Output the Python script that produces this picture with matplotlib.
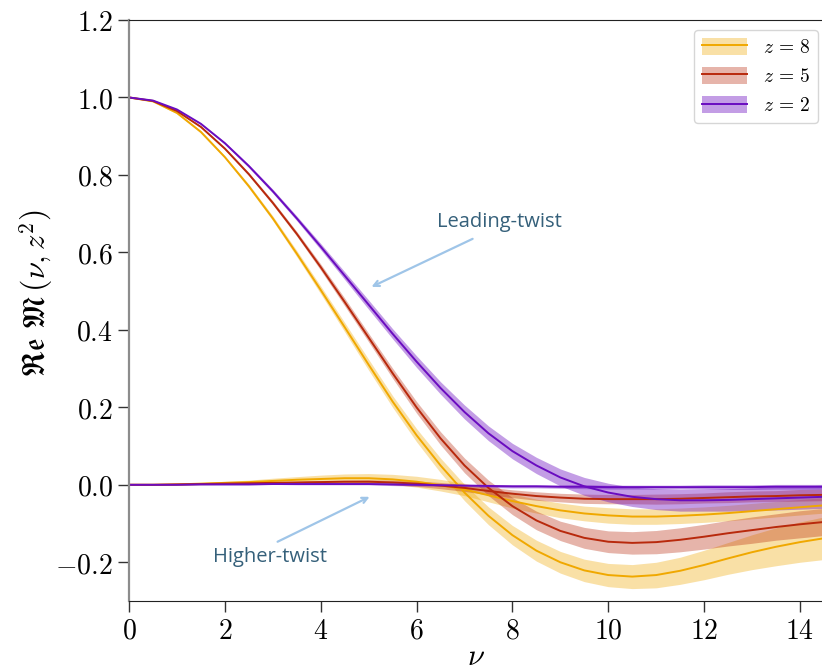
import numpy as np
import matplotlib
matplotlib.use("Agg")
import matplotlib.pyplot as plt
from matplotlib.patches import Patch
from matplotlib.lines import Line2D
from matplotlib.ticker import FuncFormatter

plt.rcParams["mathtext.fontset"] = "cm"

# Ioffe time grid
nu = np.arange(0, 15.0, 0.5)

# leading-twist pieces (central values)
lt_z8 = [1.000, 0.990, 0.960, 0.911, 0.846, 0.771, 0.688, 0.597, 0.503, 0.407,
         0.310, 0.215, 0.128, 0.050, -0.020, -0.080, -0.130, -0.170, -0.200, -0.221,
         -0.233, -0.237, -0.233, -0.222, -0.207, -0.190, -0.174, -0.160, -0.148, -0.138]
lt_z5 = [1.000, 0.991, 0.965, 0.924, 0.868, 0.802, 0.728, 0.648, 0.562, 0.472,
         0.380, 0.288, 0.200, 0.120, 0.050, -0.008, -0.055, -0.092, -0.119, -0.137,
         -0.147, -0.150, -0.148, -0.142, -0.134, -0.125, -0.117, -0.109, -0.102, -0.096]
lt_z2 = [1.000, 0.992, 0.969, 0.932, 0.882, 0.823, 0.758, 0.688, 0.615, 0.540,
         0.465, 0.390, 0.318, 0.250, 0.188, 0.133, 0.087, 0.050, 0.019, -0.004,
         -0.020, -0.031, -0.037, -0.040, -0.040, -0.039, -0.037, -0.035, -0.033, -0.031]
lt_err_z8 = [0.000, 0.001, 0.002, 0.003, 0.003, 0.005, 0.006, 0.008, 0.010, 0.012,
             0.014, 0.015, 0.017, 0.019, 0.021, 0.023, 0.025, 0.027, 0.028, 0.029,
             0.030, 0.031, 0.033, 0.035, 0.038, 0.041, 0.045, 0.049, 0.052, 0.055]
lt_err_z5 = [0.000, 0.001, 0.001, 0.002, 0.003, 0.004, 0.005, 0.006, 0.008, 0.010,
             0.011, 0.013, 0.015, 0.017, 0.019, 0.020, 0.022, 0.024, 0.025, 0.027,
             0.028, 0.029, 0.030, 0.031, 0.032, 0.033, 0.034, 0.034, 0.035, 0.035]
lt_err_z2 = [0.000, 0.001, 0.001, 0.002, 0.003, 0.004, 0.005, 0.006, 0.008, 0.010,
             0.012, 0.013, 0.015, 0.016, 0.018, 0.019, 0.020, 0.021, 0.022, 0.023,
             0.024, 0.025, 0.027, 0.028, 0.028, 0.029, 0.029, 0.030, 0.030, 0.030]

# higher-twist pieces
ht_z8 = [0.000, 0.000, 0.001, 0.003, 0.005, 0.007, 0.010, 0.013, 0.015, 0.017,
         0.017, 0.014, 0.008, -0.001, -0.012, -0.027, -0.042, -0.055, -0.066, -0.074,
         -0.079, -0.082, -0.082, -0.080, -0.077, -0.073, -0.068, -0.063, -0.058, -0.053]
ht_z5 = [0.000, 0.000, 0.001, 0.002, 0.003, 0.004, 0.005, 0.006, 0.007, 0.008,
         0.008, 0.006, 0.003, -0.002, -0.008, -0.016, -0.023, -0.029, -0.033, -0.036,
         -0.037, -0.037, -0.037, -0.036, -0.034, -0.032, -0.030, -0.029, -0.027, -0.026]
ht_z2 = [0.000, 0.000, 0.000, 0.001, 0.001, 0.001, 0.002, 0.002, 0.002, 0.002,
         0.002, 0.001, 0.000, -0.001, -0.002, -0.003, -0.004, -0.004, -0.005, -0.005,
         -0.006, -0.006, -0.006, -0.006, -0.006, -0.006, -0.006, -0.005, -0.005, -0.005]
ht_err_z8 = [0.000, 0.001, 0.002, 0.003, 0.004, 0.005, 0.007, 0.008, 0.010, 0.011,
             0.012, 0.013, 0.014, 0.015, 0.016, 0.017, 0.018, 0.018, 0.019, 0.019,
             0.020, 0.020, 0.020, 0.020, 0.020, 0.020, 0.020, 0.020, 0.020, 0.020]
ht_err_z5 = [0.000, 0.000, 0.001, 0.001, 0.002, 0.002, 0.003, 0.003, 0.004, 0.004,
             0.005, 0.006, 0.007, 0.008, 0.009, 0.010, 0.010, 0.011, 0.011, 0.012,
             0.012, 0.012, 0.013, 0.013, 0.013, 0.014, 0.014, 0.014, 0.015, 0.015]
ht_err_z2 = [0.000, 0.000, 0.000, 0.001, 0.001, 0.001, 0.001, 0.002, 0.002, 0.002,
             0.002, 0.003, 0.003, 0.003, 0.003, 0.004, 0.004, 0.004, 0.004, 0.005,
             0.005, 0.005, 0.005, 0.005, 0.006, 0.006, 0.006, 0.006, 0.006, 0.006]

labels = [r"$z\,=\,8$", r"$z\,=\,5$", r"$z\,=\,2$"]
colors = ["#f0a800", "#b8290c", "#6a0cc0"]
band_alpha = [0.35, 0.35, 0.4]

fig = plt.figure(figsize=(8.22, 6.71), dpi=100)
ax = fig.add_axes([129 / 822, 70 / 671, 1 - 129 / 822, 581 / 671])

curves = [(lt_z8, lt_err_z8, ht_z8, ht_err_z8),
          (lt_z5, lt_err_z5, ht_z5, ht_err_z5),
          (lt_z2, lt_err_z2, ht_z2, ht_err_z2)]

handles = []
for (lt, lte, ht, hte), c, a, lab in zip(curves, colors, band_alpha, labels):
    lt = np.array(lt); lte = np.array(lte)
    ht = np.array(ht); hte = np.array(hte)
    ax.fill_between(nu, lt - lte, lt + lte, color=c, alpha=a, lw=0)
    ax.fill_between(nu, ht - hte, ht + hte, color=c, alpha=a, lw=0)
    ax.plot(nu, lt, color=c, lw=1.4)
    ax.plot(nu, ht, color=c, lw=1.4)
    handles.append((Patch(facecolor=c, alpha=a, lw=0), Line2D([], [], color=c, lw=1.4)))

ax.set_xlim(0, 14.46)
ax.set_ylim(-0.3, 1.2)
ax.set_xticks(np.arange(0, 15, 2))
ax.set_yticks(np.arange(-0.2, 1.21, 0.2))
ax.xaxis.set_major_formatter(FuncFormatter(lambda v, p: r"$%d$" % round(v)))
ax.yaxis.set_major_formatter(FuncFormatter(lambda v, p: r"$%.1f$" % v))
ax.tick_params(labelsize=20, length=8, width=1, direction="out", colors="#333333")
for lab in ax.get_xticklabels() + ax.get_yticklabels():
    lab.set_color("black")

ax.spines["right"].set_visible(False)
ax.spines["left"].set_color("#8c8c8c")
ax.spines["left"].set_linewidth(1.6)
ax.spines["top"].set_color("#222222")
ax.spines["bottom"].set_color("#222222")

ax.set_xlabel(r"$\nu$", fontsize=22)
ax.xaxis.set_label_coords(0.5, -0.07)
ax.set_ylabel(r"$\mathfrak{Re}\ \mathfrak{M}\,\left(\nu, z^2\right)$", fontsize=22)
ax.yaxis.set_label_coords(-0.107, 0.53)

ax.legend(handles, labels, loc="upper right", bbox_to_anchor=(0.994, 0.983),
          fontsize=14, handlelength=2.3, handleheight=1.0, frameon=True,
          edgecolor="#cccccc", fancybox=True, borderaxespad=0, labelspacing=0.5)

arrow_kw = dict(arrowstyle="->", color="#9fc5e8", lw=1.6, shrinkA=0, shrinkB=0)
ax.annotate("", xy=(5.06, 0.511), xytext=(7.17, 0.635), arrowprops=arrow_kw)
ax.annotate("", xy=(5.02, -0.031), xytext=(3.10, -0.147), arrowprops=arrow_kw)
ax.text(7.73, 0.679, "Leading-twist", fontsize=14.5, color="#35607a",
        family="Open Sans", ha="center", va="center")
ax.text(2.94, -0.186, "Higher-twist", fontsize=14.5, color="#35607a",
        family="Open Sans", ha="center", va="center")

fig.savefig("out.png", dpi=100)
